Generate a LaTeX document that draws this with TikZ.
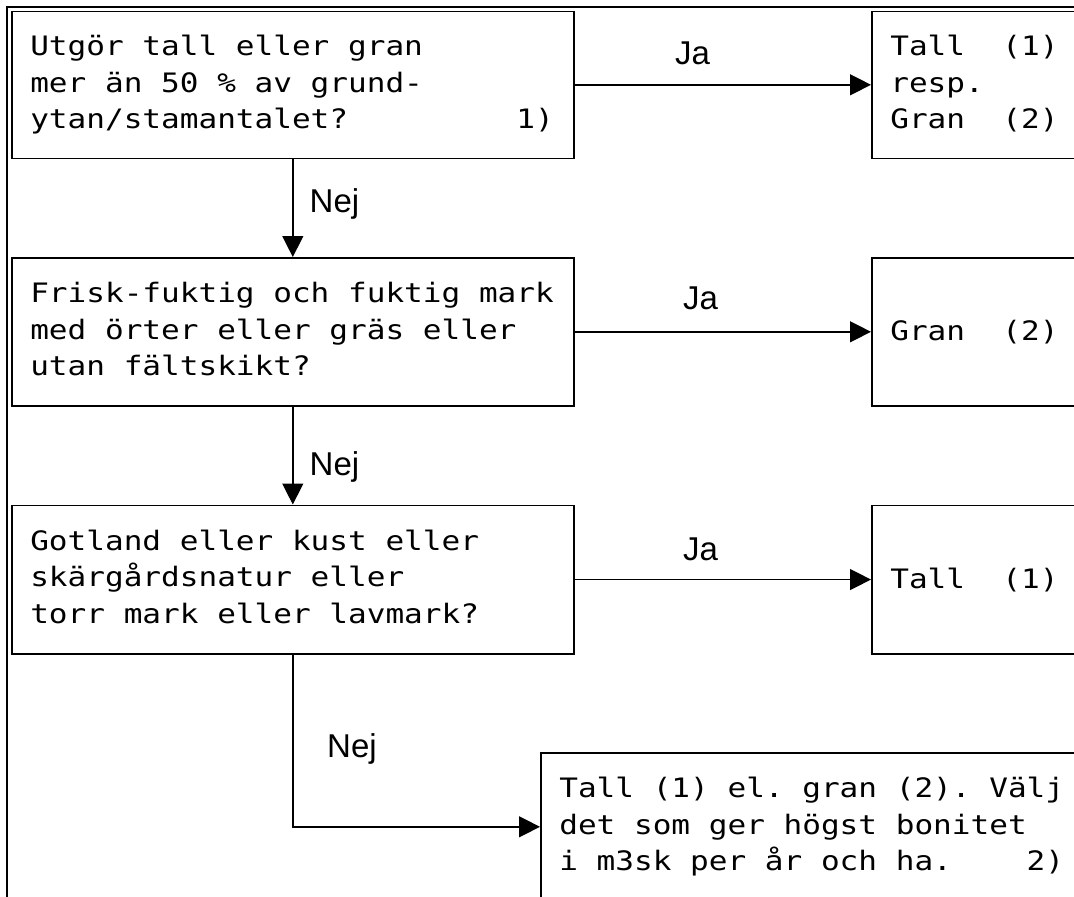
\documentclass[tikz,border=0pt]{standalone}
\usepackage{fontspec}
\usetikzlibrary{arrows.meta}
\newfontfamily\boxfont{DejaVu Sans Mono}[FakeStretch=1.161]
\newfontfamily\labfont{Liberation Sans}
% one monospaced cell of blank space
\newcommand\ws{\hphantom{a}}
\tikzset{
  box/.style={draw, line width=1.6pt, anchor=north west, align=left,
    inner xsep=18.5pt, inner ysep=0pt,
    font=\boxfont\fontsize{26.75}{36.5}\selectfont},
  conn/.style={line width=1.4pt, -{Triangle[length=21pt,width=21pt]}},
  lab/.style={anchor=base west, inner sep=0pt,
    font=\labfont\fontsize{33}{38}\selectfont},
  frame/.style={line width=1.4pt},
}
\begin{document}
\begin{tikzpicture}[x=1pt,y=-1pt]
\useasboundingbox (0,0) rectangle (1074,897);
\clip (0,0) rectangle (1074,897);
\fill[white] (0,0) rectangle (1074,897);
\draw[frame] (1100,7) -- (7,7) -- (7,920);
% question boxes
\node[box, text width=525pt, minimum height=147pt] (q1) at (11,10.5)
  {\strut Utgör\ws tall\ws eller\ws gran\\
   \strut mer\ws än\ws 50\ws\%\ws av\ws grund-\\
   \strut ytan/stamantalet?\ws\ws\ws\ws\ws\ws\ws\ws\ws 1)};
\node[box, text width=525pt, minimum height=148pt] (q2) at (11,257)
  {\strut Frisk-fuktig\ws och\ws fuktig\ws mark\\
   \strut med\ws örter\ws eller\ws gräs\ws eller\\
   \strut utan\ws fältskikt?};
\node[box, text width=525pt, minimum height=148.5pt] (q3) at (11,504.5)
  {\strut Gotland\ws eller\ws kust\ws eller\\
   \strut skärgårdsnatur\ws eller\\
   \strut torr\ws mark\ws eller\ws lavmark?};
% answer boxes
\node[box, text width=192pt, minimum height=147pt] (r1) at (871,10.5)
  {\strut Tall\ws\ws(1)\\\strut resp.\\\strut Gran\ws\ws(2)};
\node[box, text width=192pt, minimum height=148pt] (r2) at (871,257)
  {Gran\ws\ws(2)};
\node[box, text width=192pt, minimum height=148.5pt] (r3) at (871,504.5)
  {Tall\ws\ws(1)};
\node[box, text width=523pt, minimum height=148pt] (b4) at (540,752)
  {\strut Tall\ws(1)\ws el.\ws gran\ws(2).\ws Välj\\
   \strut det\ws som\ws ger\ws högst\ws bonitet\\
   \strut i\ws m3sk\ws per\ws år\ws och\ws ha.\ws\ws\ws\ws 2)};
% connectors
\draw[conn] (q1.east) -- (r1.west);
\draw[conn] (q2.east) -- (r2.west);
\draw[conn] (q3.east) -- (r3.west);
\draw[conn] (q1.south) -- (q2.north);
\draw[conn] (q2.south) -- (q3.north);
\draw[conn] (q3.south) |- (b4.west);
% labels
\node[lab] (ja1) at (675,64) {Ja};
\node[lab] (ja2) at (683,309) {Ja};
\node[lab] (ja3) at (683,560) {Ja};
\node[lab] (nej1) at (309.5,212) {Nej};
\node[lab] (nej2) at (309.5,475) {Nej};
\node[lab] (nej3) at (327,757) {Nej};
\end{tikzpicture}
\end{document}
